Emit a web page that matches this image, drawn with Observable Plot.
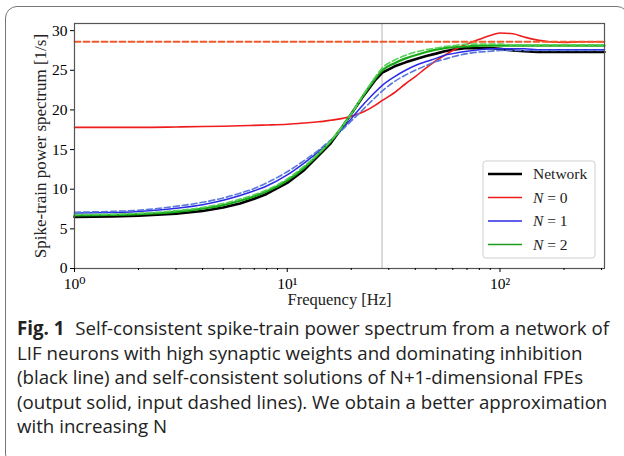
<!DOCTYPE html>
<html>
<head>
<meta charset="utf-8">
<script src="https://cdn.jsdelivr.net/npm/d3@7"></script>
<script src="https://cdn.jsdelivr.net/npm/@observablehq/plot@0.6"></script>
<style>
  html, body { margin: 0; padding: 0; background: #fff; }
  body { width: 624px; height: 456px; position: relative; overflow: hidden; }
  #card { position: absolute; left: 5px; top: 6px; width: 624px; height: 460px;
          border: 1px solid #777; border-radius: 12px; box-sizing: border-box; }
  #chart { position: absolute; left: 0; top: 0; }
  #caption { position: absolute; left: 17px; top: 316px; width: 606px;
             font-family: "Open Sans", "Lato", sans-serif; font-size: 18.7px; line-height: 24.5px;
             color: #222; white-space: nowrap; }
  #caption b { font-weight: 700; margin-right: 6px; }
</style>
</head>
<body>
<div id="card"></div>
<div id="chart"></div>
<div id="caption"><b>Fig. 1</b> Self-consistent spike-train power spectrum from a network of<br>LIF neurons with high synaptic weights and dominating inhibition<br>(black line) and self-consistent solutions of N+1-dimensional FPEs<br>(output solid, input dashed lines). We obtain a better approximation<br>with increasing N</div>
<script>
// Frequencies (Hz)
const freqs   = [1, 1.5, 2, 3, 4, 5, 6, 7, 8, 10, 12, 14, 16, 18, 20, 23, 26, 28, 32, 36, 40, 45, 50, 55, 60, 70, 80, 90, 100, 115, 130, 150, 170, 200, 240, 280, 310];
// Network (black)
const network = [6.5, 6.55, 6.65, 6.9, 7.25, 7.7, 8.2, 8.8, 9.4, 10.8, 12.4, 14.2, 15.8, 17.7, 19.5, 21.9, 23.8, 24.7, 25.5, 26.0, 26.4, 26.8, 27.1, 27.4, 27.6, 27.8, 27.8, 27.8, 27.7, 27.5, 27.4, 27.3, 27.3, 27.3, 27.3, 27.3, 27.3];
// N = 0 output (red)
const n0Out   = [17.8, 17.8, 17.8, 17.85, 17.9, 17.95, 18.0, 18.05, 18.1, 18.2, 18.35, 18.5, 18.7, 18.9, 19.2, 19.8, 20.6, 21.2, 22.2, 23.3, 24.2, 25.3, 26.2, 26.9, 27.5, 28.3, 28.9, 29.4, 29.7, 29.6, 29.2, 28.8, 28.6, 28.5, 28.6, 28.6, 28.6];
// N = 0 input (dashed, flat)
const n0InFreqs = [1, 310];
const n0In      = [28.6, 28.6];
// N = 1 output / input (blue)
const n1Out   = [7.0, 7.05, 7.2, 7.6, 8.05, 8.6, 9.2, 9.8, 10.4, 11.8, 13.3, 14.7, 16.1, 17.5, 18.9, 20.8, 22.3, 23.1, 24.2, 25.0, 25.6, 26.1, 26.5, 26.9, 27.1, 27.4, 27.6, 27.7, 27.7, 27.7, 27.7, 27.6, 27.6, 27.6, 27.6, 27.6, 27.6];
const n1In    = [7.1, 7.2, 7.35, 7.85, 8.35, 8.9, 9.5, 10.1, 10.8, 12.2, 13.6, 14.9, 16.2, 17.4, 18.6, 20.2, 21.6, 22.4, 23.6, 24.4, 25.0, 25.6, 26.1, 26.4, 26.7, 27.1, 27.3, 27.4, 27.5, 27.5, 27.5, 27.5, 27.5, 27.5, 27.5, 27.5, 27.5];
// N = 2 output / input (green)
const n2Out   = [6.7, 6.75, 6.85, 7.15, 7.55, 8.0, 8.55, 9.1, 9.7, 11.1, 12.7, 14.4, 16.0, 17.8, 19.5, 22.0, 24.0, 25.0, 25.9, 26.5, 26.9, 27.3, 27.6, 27.8, 27.9, 28.0, 28.1, 28.1, 28.1, 28.1, 28.1, 28.1, 28.1, 28.1, 28.1, 28.1, 28.1];
const n2In    = [6.8, 6.85, 6.95, 7.3, 7.7, 8.2, 8.75, 9.3, 9.9, 11.3, 12.9, 14.5, 16.1, 17.8, 19.5, 22.1, 24.2, 25.3, 26.3, 26.9, 27.3, 27.6, 27.8, 28.0, 28.1, 28.3, 28.3, 28.3, 28.3, 28.2, 28.2, 28.2, 28.2, 28.2, 28.2, 28.2, 28.2];
// Vertical reference line
const refFreq = [27.9];
// Axis ticks
const yTicks = [0, 5, 10, 15, 20, 25, 30];
const xMajor = [1, 10, 100];
const xMajorLabels = ["10⁰", "10¹", "10²"];
const xMinor = [2, 3, 4, 5, 6, 7, 8, 9, 20, 30, 40, 50, 60, 70, 80, 90, 200, 300];
// Axis titles
const xTitle = "Frequency [Hz]";
const yTitle = "Spike-train power spectrum [1/s]";
// Legend
const legendLabels = ["Network", "N = 0", "N = 1", "N = 2"];
const legendColors = ["#000000", "#ee1c1c", "#2a2ae8", "#1e9a1e"];

const toRows = (xs, ys) => xs.map((f, i) => ({f, v: ys[i]}));
const serif = "'Liberation Serif', 'DejaVu Serif', serif";

const plot = Plot.plot({
  width: 624,
  height: 310,
  marginLeft: 74,
  marginRight: 20,
  marginTop: 23,
  marginBottom: 42,
  style: {fontFamily: serif, fontSize: "15px", background: "transparent", overflow: "visible"},
  x: {type: "log", domain: [1, 310]},
  y: {domain: [0, 30.9]},
  marks: [
    Plot.ruleX(refFreq, {stroke: "#b5b5b5", strokeWidth: 1}),
    Plot.line(toRows(freqs, network), {x: "f", y: "v", stroke: legendColors[0], strokeWidth: 2.6}),
    Plot.line(toRows(freqs, n0Out), {x: "f", y: "v", stroke: legendColors[1], strokeWidth: 1.6, curve: "monotone-x"}),
    Plot.line(toRows(freqs, n1Out), {x: "f", y: "v", stroke: legendColors[2], strokeWidth: 1.5, curve: "monotone-x"}),
    Plot.line(toRows(freqs, n1In), {x: "f", y: "v", stroke: "#5a78dc", strokeWidth: 1.6, strokeDasharray: "6,3", curve: "monotone-x"}),
    Plot.line(toRows(freqs, n2Out), {x: "f", y: "v", stroke: "#18a818", strokeWidth: 2.2, curve: "monotone-x"}),
    Plot.line(toRows(freqs, n2In), {x: "f", y: "v", stroke: "#55d055", strokeWidth: 1.6, strokeDasharray: "6,3", curve: "monotone-x"}),
    Plot.line(toRows(n0InFreqs, n0In), {x: "f", y: "v", stroke: "#f05a2a", strokeWidth: 1.8, strokeDasharray: "6,3"}),
    Plot.frame({stroke: "#555", strokeWidth: 1.2}),
    Plot.axisY({ticks: yTicks, tickSize: 4, tickPadding: 3, fontSize: 15.5, label: null}),
    Plot.axisX({ticks: xMajor, tickSize: 4, tickPadding: 5, fontSize: 15.5,
      tickFormat: d => xMajorLabels[xMajor.indexOf(d)], label: null}),
    Plot.axisX({ticks: xMinor, tickSize: 2, tickFormat: () => "", label: null}),
    Plot.text([yTitle], {frameAnchor: "left", rotate: -90, dx: -34, textAnchor: "middle", lineAnchor: "middle", fontSize: 17, fill: "#222"}),
    Plot.text([xTitle], {frameAnchor: "bottom", dy: 31, textAnchor: "middle", lineAnchor: "middle", fontSize: 16.5, fill: "#222"})
  ]
});
document.getElementById("chart").appendChild(plot);

// Legend box inside the plot frame
const svg = d3.select(plot);
const lg = svg.append("g").attr("transform", "translate(483,161)");
lg.append("rect").attr("width", 112).attr("height", 97).attr("rx", 3)
  .attr("fill", "white").attr("fill-opacity", 0.85).attr("stroke", "#cfcfcf");
legendLabels.forEach((lab, i) => {
  const y = 13 + i * 23.5;
  lg.append("line").attr("x1", 5).attr("x2", 39).attr("y1", y).attr("y2", y)
    .attr("stroke", legendColors[i]).attr("stroke-width", i === 0 ? 2.6 : 1.6);
  const t = lg.append("text").attr("x", 50).attr("y", y).attr("dy", "0.35em")
    .attr("text-anchor", "start")
    .attr("font-family", serif).attr("font-size", 15.5).attr("fill", "#222");
  if (i === 0) t.text(lab);
  else {
    const parts = lab.split(" = ");
    t.append("tspan").attr("font-style", "italic").text(parts[0]);
    t.append("tspan").text(" = " + parts[1]);
  }
});
</script>
</body>
</html>
